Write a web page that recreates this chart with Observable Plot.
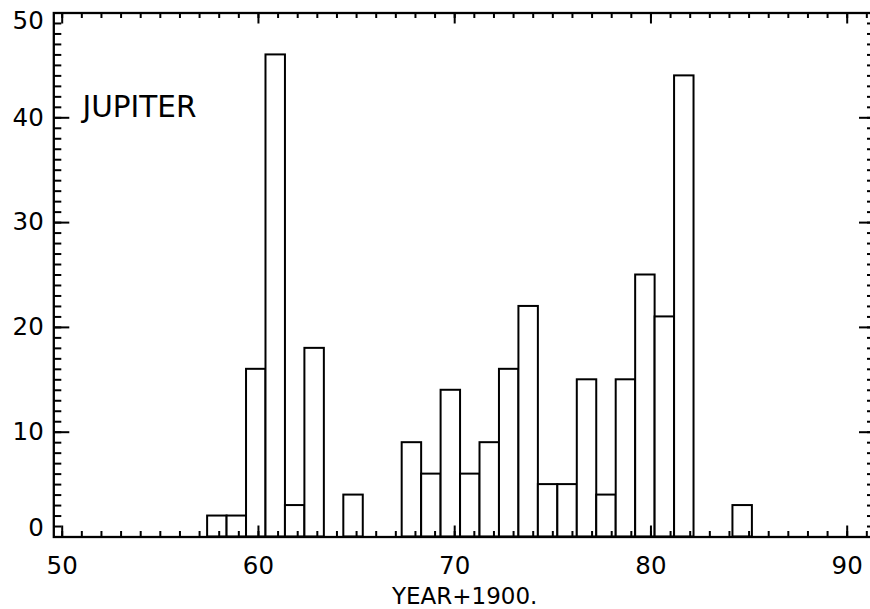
<!DOCTYPE html>
<html>
<head>
<meta charset="utf-8">
<script src="https://cdn.jsdelivr.net/npm/d3@7"></script>
<script src="https://cdn.jsdelivr.net/npm/@observablehq/plot@0.6"></script>
<style>
  html, body { margin: 0; padding: 0; background: #fff; overflow: hidden; width: 870px; height: 609px; }
</style>
</head>
<body>
<div id="chart"></div>
<script>
// Histogram of Jupiter observations per year (year + 1900)
const years  = [58, 59, 60, 61, 62, 63, 64, 65, 66, 67, 68, 69, 70, 71, 72, 73, 74, 75, 76, 77, 78, 79, 80, 81, 82, 83, 84, 85];
const counts = [ 2,  2, 16, 46,  3, 18,  0,  4,  0,  0,  9,  6, 14,  6,  9, 16, 22,  5,  5, 15,  4, 15, 25, 21, 44,  0,  0,  3];

// bin layout
const binStart = 57.41;
const binWidth = 0.9914;

const xTickLabels = [50, 60, 70, 80, 90];
const yTickLabels = [0, 10, 20, 30, 40, 50];
const xMinorTicks = d3.range(50, 92);
const yMinorTicks = d3.range(0, 51);
const label = "JUPITER";
const xTitle = "YEAR+1900.";

const data = years.map((yr, i) => ({
  year: yr,
  count: counts[i],
  x1: binStart + i * binWidth,
  x2: binStart + (i + 1) * binWidth
})).filter(d => d.count > 0);

const W = 870, H = 609;
const mL = 53.3, mR = -5, mT = 12.5, mB = 72.5;
const pw = W - mL - mR, ph = H - mT - mB;
const font = "DejaVu Sans";
const tw = 2;
const yLab = {frameAnchor: "left", y: d => d, dx: -10, text: d => String(d), textAnchor: "end", lineAnchor: "middle", fontSize: 24.5, fill: "black"};

const chart = Plot.plot({
  width: W,
  height: H,
  marginLeft: mL,
  marginRight: mR,
  marginTop: mT,
  marginBottom: mB,
  x: {domain: [49.572, 91.442], axis: null},
  y: {domain: [0, 50], axis: null},
  style: {fontFamily: font, background: "white", color: "black", overflow: "hidden"},
  marks: [
    Plot.rectY(data, {x1: "x1", x2: "x2", y1: 0, y2: "count", fill: "white", stroke: "black", strokeWidth: 2}),
    // bottom ticks
    Plot.tickX(xMinorTicks, {x: d => d, insetTop: ph - 5.5, stroke: "black", strokeWidth: tw}),
    Plot.tickX(xTickLabels, {x: d => d, insetTop: ph - 11, stroke: "black", strokeWidth: tw}),
    // top ticks
    Plot.tickX(xMinorTicks, {x: d => d, insetBottom: ph - 5.5, stroke: "black", strokeWidth: tw}),
    Plot.tickX(xTickLabels, {x: d => d, insetBottom: ph - 11, stroke: "black", strokeWidth: tw}),
    // left ticks
    Plot.tickY(yMinorTicks, {y: d => d, insetRight: pw - 8, stroke: "black", strokeWidth: tw}),
    Plot.tickY(yTickLabels, {y: d => d, insetRight: pw - 16, stroke: "black", strokeWidth: tw}),
    // right ticks
    Plot.tickY(yMinorTicks, {y: d => d, insetLeft: pw - 8, stroke: "black", strokeWidth: tw}),
    Plot.tickY(yTickLabels, {y: d => d, insetLeft: pw - 16, stroke: "black", strokeWidth: tw}),
    Plot.frame({stroke: "black", strokeWidth: 2.3}),
    // x tick labels
    Plot.text(xTickLabels, {x: d => d, y: 0, dy: 29.5, text: d => String(d), textAnchor: "middle", lineAnchor: "middle", fontSize: 24.5, fill: "black"}),
    // y tick labels (end labels nudged inward as in the original)
    Plot.text(yTickLabels.filter(d => d > 0 && d < 50), yLab),
    Plot.text(yTickLabels.filter(d => d === 0), {...yLab, dy: -8.5}),
    Plot.text(yTickLabels.filter(d => d === 50), {...yLab, dy: 8.5}),
    // label
    Plot.text([label], {frameAnchor: "top-left", dx: 28.7, dy: 95, text: d => d, textAnchor: "start", lineAnchor: "middle", fontSize: 29.5, fill: "black", letterSpacing: 1.2}),
    // x axis title
    Plot.text([xTitle], {frameAnchor: "bottom", dy: 60, text: d => d, textAnchor: "middle", lineAnchor: "middle", fontSize: 23, fill: "black", letterSpacing: 2})
  ]
});

document.getElementById("chart").appendChild(chart);
</script>
</body>
</html>
